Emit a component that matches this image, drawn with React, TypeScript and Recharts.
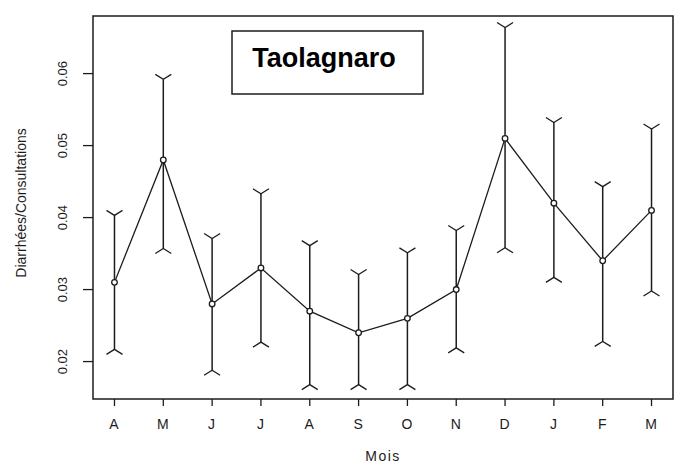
import React from 'react';
import { ComposedChart, Line, XAxis, YAxis, ErrorBar, ReferenceArea } from 'recharts';

const months = ['A', 'M', 'J', 'J', 'A', 'S', 'O', 'N', 'D', 'J', 'F', 'M'];
const means = [0.031, 0.048, 0.028, 0.033, 0.027, 0.024, 0.026, 0.030, 0.051, 0.042, 0.034, 0.041];
const upper = [0.0403, 0.0592, 0.0371, 0.0433, 0.0361, 0.0321, 0.0351, 0.0382, 0.0664, 0.0532, 0.0443, 0.0523];
const lower = [0.0217, 0.0357, 0.0188, 0.0227, 0.0168, 0.0168, 0.0168, 0.0219, 0.0358, 0.0317, 0.0228, 0.0298];
const yTicks = [0.02, 0.03, 0.04, 0.05, 0.06];
const xTicks = months.map((_, i) => i + 1);

const data = months.map((m, i) => ({
  x: i + 1,
  mean: means[i],
  upper: upper[i],
  lower: lower[i],
  err: [means[i] - lower[i], upper[i] - means[i]],
}));

const INK = '#1c1c1c';
const FONT = '"Liberation Sans", Arial, sans-serif';

const X_DOMAIN: [number, number] = [0.56, 12.44];
const Y_DOMAIN: [number, number] = [0.0148, 0.068];

const UpCap = (props: any) => {
  const { cx, cy } = props;
  if (cx == null || cy == null) return null;
  return (
    <polyline
      points={`${cx - 8},${cy - 5} ${cx},${cy} ${cx + 8},${cy - 5}`}
      fill="none"
      stroke={INK}
      strokeWidth={1.3}
    />
  );
};

const DownCap = (props: any) => {
  const { cx, cy } = props;
  if (cx == null || cy == null) return null;
  return (
    <polyline
      points={`${cx - 8},${cy + 5} ${cx},${cy} ${cx + 8},${cy + 5}`}
      fill="none"
      stroke={INK}
      strokeWidth={1.3}
    />
  );
};

const XTick = (props: any) => {
  const { x, payload } = props;
  return (
    <text x={x} y={429} textAnchor="middle" fontFamily={FONT} fontSize={14} letterSpacing={1} fill={INK}>
      {months[payload.value - 1]}
    </text>
  );
};

const YTick = (props: any) => {
  const { y, payload } = props;
  return (
    <text
      x={67}
      y={y}
      transform={`rotate(-90, 67, ${y})`}
      textAnchor="middle"
      fontFamily={FONT}
      fontSize={13}
      fill={INK}
    >
      {Number(payload.value).toFixed(2)}
    </text>
  );
};

export default function App() {
  return (
    <div style={{ position: 'absolute', left: 0, top: 0, width: 683, height: 469, background: '#fff' }}>
      <ComposedChart
        width={683}
        height={469}
        data={data}
        margin={{ top: 16, right: 10, left: 0, bottom: 0 }}
      >
        <XAxis
          dataKey="x"
          type="number"
          domain={X_DOMAIN}
          ticks={xTicks}
          allowDataOverflow
          axisLine={false}
          tickLine={{ stroke: INK, strokeWidth: 1.3 }}
          tickSize={7}
          height={70}
          tick={<XTick />}
          interval={0}
        />
        <YAxis
          type="number"
          domain={Y_DOMAIN}
          ticks={yTicks}
          allowDataOverflow
          axisLine={false}
          tickLine={{ stroke: INK, strokeWidth: 1.3 }}
          tickSize={10}
          width={93}
          tick={<YTick />}
          interval={0}
        />
        <ReferenceArea
          x1={X_DOMAIN[0]}
          x2={X_DOMAIN[1]}
          y1={Y_DOMAIN[0]}
          y2={Y_DOMAIN[1]}
          fill="none"
          stroke={INK}
          strokeWidth={1.5}
          ifOverflow="extendDomain"
        />
        <Line
          dataKey="upper"
          stroke="none"
          isAnimationActive={false}
          dot={<UpCap />}
          activeDot={false}
        />
        <Line
          dataKey="lower"
          stroke="none"
          isAnimationActive={false}
          dot={<DownCap />}
          activeDot={false}
        />
        <Line
          dataKey="mean"
          stroke={INK}
          strokeWidth={1.3}
          isAnimationActive={false}
          dot={{ r: 2.8, stroke: INK, strokeWidth: 1.3, fill: '#fff' }}
          activeDot={false}
        >
          <ErrorBar dataKey="err" width={0} stroke={INK} strokeWidth={1.5} direction="y" />
        </Line>
        <rect x={232} y={31} width={191} height={63} fill="#fff" stroke={INK} strokeWidth={1.5} />
        <text x={324} y={67} textAnchor="middle" fontFamily={FONT} fontWeight="bold" fontSize={27} fill="#000">
          Taolagnaro
        </text>
        <text
          x={26}
          y={203}
          transform="rotate(-90, 26, 203)"
          textAnchor="middle"
          fontFamily={FONT}
          fontSize={14}
          fill={INK}
        >
          Diarrhées/Consultations
        </text>
        <text x={383} y={461} textAnchor="middle" fontFamily={FONT} fontSize={14} letterSpacing={1.5} fill={INK}>
          Mois
        </text>
      </ComposedChart>
    </div>
  );
}
